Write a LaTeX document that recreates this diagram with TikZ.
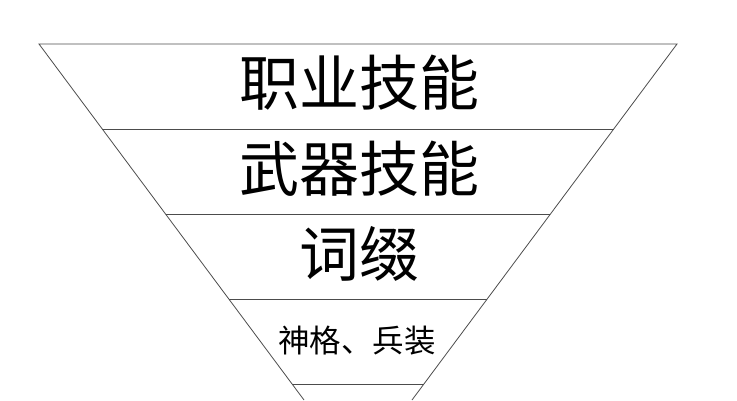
\documentclass[tikz,border=0pt]{standalone}
\usepackage{fontspec}
\newfontfamily\cjk{Noto Sans CJK SC}
\tikzset{
  funnel/.style={draw=black!70, line width=0.8pt},
  bigLabel/.style={font=\cjk\fontsize{60}{62}\selectfont, inner sep=0pt, anchor=base},
  smallLabel/.style={font=\cjk\fontsize{31.5}{33}\selectfont, inner sep=0pt, anchor=base}
}

\begin{document}
\begin{tikzpicture}[x=1pt, y=-1pt]
  \useasboundingbox (0,0) rectangle (737,400);
  % outer edges
  \coordinate (topL) at (39,44);
  \coordinate (topR) at (677,44);
  \coordinate (botL) at (304,400);
  \coordinate (botR) at (412,400);
  \draw [funnel] (botL) -- (topL) -- (topR) -- (botR);
  % layer borders
  \coordinate (oneL) at (102,129);   \coordinate (oneR) at (614,129);
  \coordinate (twoL) at (166,214);   \coordinate (twoR) at (550,214);
  \coordinate (threeL) at (229,299); \coordinate (threeR) at (487,299);
  \coordinate (fourL) at (292,384);  \coordinate (fourR) at (424,384);
  \draw [funnel] (oneL) -- (oneR);
  \draw [funnel] (twoL) -- (twoR);
  \draw [funnel] (threeL) -- (threeR);
  \draw [funnel] (fourL) -- (fourR);
  % layer names
  \node [bigLabel] (job) at (359,105) {职业技能};
  \node [bigLabel] (weapon) at (359,191) {武器技能};
  \node [bigLabel] (affix) at (359,276) {词缀};
  \node [smallLabel] (god) at (357,352) {神格、兵装};
\end{tikzpicture}
\end{document}
